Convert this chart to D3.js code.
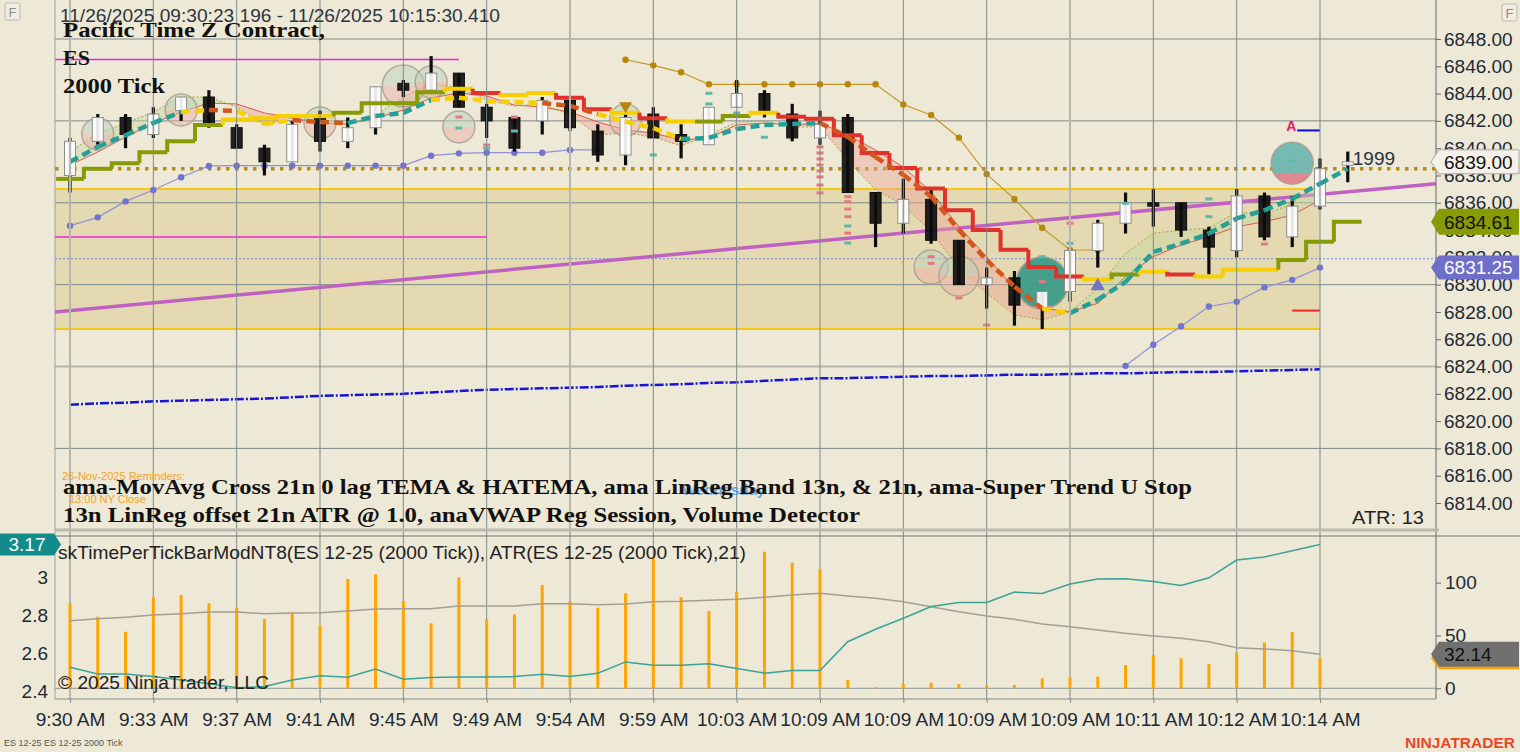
<!DOCTYPE html>
<html>
<head>
<meta charset="utf-8">
<script src="https://cdn.jsdelivr.net/npm/d3@7"></script>
<style>
  html, body { margin: 0; padding: 0; background: #eee8d6; }
  svg { display: block; font-family: "Liberation Sans", Arial, sans-serif; }
</style>
</head>
<body>
<svg id="chart" width="1520" height="752"></svg>
<script>
// ---------- data ----------
const timeLabels = ["9:30 AM", "9:33 AM", "9:37 AM", "9:41 AM", "9:45 AM", "9:49 AM", "9:54 AM", "9:59 AM",
  "10:03 AM", "10:09 AM", "10:09 AM", "10:09 AM", "10:09 AM", "10:11 AM", "10:12 AM", "10:14 AM"];
const labelBars = [0, 3, 6, 9, 12, 15, 18, 21, 24, 27, 30, 33, 36, 39, 42, 45];
const priceTicks = [6814, 6816, 6818, 6820, 6822, 6824, 6826, 6828, 6830, 6832, 6834, 6836, 6838, 6840, 6842, 6844, 6846, 6848];
const gridPrices = [6848, 6842, 6836, 6830, 6824, 6818];

const opens = [6838, 6840.5, 6842.25, 6841, 6842.75, 6843.75, 6841.5, 6840, 6839, 6842.25, 6840.5, 6841.5, 6844.75, 6844.25, 6845.5, 6843,
  6842.25, 6842, 6843.5, 6841.25, 6839.5, 6842.5, 6841, 6840.25, 6843, 6844, 6842.5, 6840.75, 6842.25, 6836.75, 6834.5, 6836.25,
  6833.25, 6830, 6830.5, 6828.25, 6829.5, 6832.5, 6834.5, 6836, 6836, 6834, 6832.5, 6836.5, 6833.5, 6835.75, 6838.75];
const highs = [6840.75, 6842.5, 6842.5, 6843, 6843.75, 6844.25, 6841.75, 6840.25, 6842, 6842.75, 6842.25, 6844.5, 6845, 6846.75, 6845.5, 6843.25,
  6842.25, 6843.75, 6843.5, 6841.75, 6842.5, 6843, 6841.75, 6843, 6845, 6844.25, 6843.25, 6842.75, 6842.5, 6836.75, 6837.75, 6837,
  6833.25, 6831.25, 6831, 6829.5, 6832.5, 6834.75, 6836.75, 6837, 6836, 6834.25, 6837, 6836.75, 6836.5, 6839.25, 6839.75];
const lows = [6836.75, 6840.25, 6840, 6840.75, 6842, 6841.5, 6840, 6838, 6839, 6839.75, 6840, 6841, 6843.75, 6844.25, 6843, 6840.75,
  6839.75, 6841, 6841.25, 6839, 6838.75, 6840.75, 6839.25, 6840.25, 6843, 6842.25, 6840.5, 6840.25, 6836.75, 6832.75, 6833.75, 6833,
  6830, 6828.25, 6827, 6826.75, 6828.75, 6831.25, 6833.75, 6834.25, 6833.5, 6830.75, 6832, 6833.25, 6832.75, 6835.5, 6837.5];
const closes = [6840.5, 6842.25, 6841, 6842.5, 6843.75, 6841.75, 6840, 6839, 6841.75, 6840.5, 6841.5, 6844.5, 6844.25, 6845.5, 6843, 6842,
  6840, 6843.5, 6841.5, 6839.5, 6842.25, 6840.75, 6840.5, 6843, 6844, 6842.75, 6840.75, 6841.75, 6836.75, 6834.5, 6836.25, 6833.25,
  6830, 6830.5, 6828.5, 6829.5, 6832.5, 6834.5, 6836, 6835.75, 6834, 6832.75, 6836.5, 6833.5, 6835.75, 6838.5, 6839];

// super trend stop: g = up, y = neutral, r = down
const stopValues = [6837.75, 6838.5, 6838.9, 6839.7, 6840.5, 6841.7, 6842.1, 6842.2, 6842.35, 6842.35,
  6842.6, 6843.3, 6843.3, 6844.1, 6844.35, 6844.05, 6843.9, 6844.05, 6843.7, 6842.85,
  6842.6, 6842.2, 6841.95, 6841.95, 6842.35, 6842.6, 6842.3, 6842.15, 6840.95, 6839.65,
  6838.55, 6837.05, 6835.45, 6834, 6832.55, 6831.3, 6830.6, 6830.4, 6830.75, 6830.95,
  6830.75, 6830.6, 6831.1, 6831.1, 6831.8, 6833.15, 6834.61];
const stopColors = ("gggggg" + "yyyy" + "gggg" + "yr" + "yy" + "rr" + "yry" + "gg" + "y" + "rrrrrrrrrrr" + "ygyr" + "yyy" + "ggg").split("");

// TEMA / HATEMA dashed line: t = rising, y = flat, o = falling
const temaValues = [6839, 6840.1, 6840.95, 6841.85, 6842.65, 6842.8, 6842.72, 6841.77, 6842.06, 6841.92,
  6841.84, 6842.36, 6842.58, 6843.53, 6843.7, 6843.45, 6843.38, 6843.31, 6843.1, 6842.5,
  6841.95, 6841.48, 6840.67, 6840.75, 6841.4, 6841.7, 6841.77, 6841.84, 6840.82, 6839.35,
  6838.05, 6836.45, 6834, 6831.8, 6829.85, 6828.25, 6827.9, 6828.9, 6830.2, 6832.4,
  6833, 6833.75, 6834.85, 6835.45, 6836.3, 6837.4, 6838.5];
const temaColors = ("tttttyoyyoottt" + "yyyyooyyy" + "ttttt" + "oooooooo" + "y" + "tttttttttt").split("");

// LinReg band lines
const lrRed = [6838.77, 6839.72, 6840.82, 6841.84, 6842.65, 6843.31, 6843.24, 6842.58, 6842.21, 6841.84,
  6841.77, 6842.21, 6842.8, 6843.68, 6844.04, 6843.82, 6843.16, 6843.02, 6842.65, 6841.92,
  6841.33, 6841.11, 6840.6, 6840.75, 6841.7, 6841.84, 6841.7, 6841.84, 6840.97, 6839.87,
  6838.62, 6836.81, 6834.25, 6832.05, 6829.73, 6828.27, 6828.02, 6828.63, 6830.58, 6832.05,
  6832.9, 6833.51, 6834.25, 6834.61, 6835.1, 6836.2];
const lrOlive = [6839.72, 6841.11, 6841.84, 6842.65, 6843.75, 6843.75, 6843.02, 6841.7, 6842.21, 6841.92,
  6841.7, 6842.43, 6843.75, 6844.78, 6844.41, 6843.53, 6843.09, 6843.24, 6842.43, 6840.97,
  6841.11, 6840.82, 6840.16, 6840.97, 6841.92, 6841.99, 6841.55, 6841.55, 6839.13, 6836.94,
  6835.84, 6833.88, 6831.2, 6829.37, 6827.78, 6827.41, 6828.02, 6829.73, 6832.3, 6833.76,
  6834, 6834.13, 6835.35, 6835.1, 6835.96, 6837.54];

const vwapValues = [6821.2, 6821.3, 6821.35, 6821.45, 6821.5, 6821.55, 6821.6, 6821.65, 6821.75, 6821.85,
  6821.9, 6821.95, 6822.0, 6822.1, 6822.2, 6822.3, 6822.35, 6822.4, 6822.45, 6822.5,
  6822.6, 6822.65, 6822.7, 6822.8, 6822.85, 6822.95, 6823.05, 6823.15, 6823.15, 6823.2,
  6823.25, 6823.3, 6823.3, 6823.35, 6823.4, 6823.4, 6823.45, 6823.5, 6823.5, 6823.55,
  6823.6, 6823.6, 6823.65, 6823.7, 6823.75, 6823.8];

const goldStart = 20;
const goldValues = [6846.48, 6846.07, 6845.56, 6844.68, 6844.68, 6844.68, 6844.68, 6844.68, 6844.68, 6844.68,
  6843.2, 6842.43, 6840.77, 6838.1, 6836.28, 6834.17, 6832.54, 6832.54];
const lavenderAStart = 0;
const lavenderA = [6834.32, 6834.93, 6836.1, 6836.94, 6837.87, 6838.7, 6838.72, 6838.72, 6838.72, 6838.72,
  6838.72, 6838.72, 6838.72, 6839.45, 6839.62, 6839.67, 6839.67, 6839.67, 6839.87, 6839.87];
const lavenderBStart = 38;
const lavenderB = [6824.05, 6825.6, 6826.95, 6828.4, 6828.75, 6829.8, 6830.35, 6831.25];

// horizontal levels
const bandTop = 6837, bandBottom = 6826.75, bandEndBar = 45;
const magentaHigh = 6846.5, magentaHighEnd = 14;
const magentaLow = 6833.5, magentaLowEnd = 15;
const dottedLevel = 6838.5;
const blueDotLevel = 6831.9;
const regBars = [-0.54, 49.17];
const regPrices = [6828.0, 6837.4];

// volume detector circles: [bar, price, radius, kind]
const volCircles = [[1, 6841.04, 16, 0], [4, 6842.8, 16, 0], [9, 6841.84, 16, 0], [12, 6844.56, 21, 0], [13, 6844.85, 16, 0],
  [14, 6841.55, 16, 0], [20, 6842.06, 16, 0], [31, 6831.29, 17, 0], [32, 6830.63, 20, 0], [35, 6830.12, 26, 1], [44, 6838.9, 21, 2]];
// volume detector ticks: [bar, price, p = pink / t = teal]
const volTicks = [[14, 6842.28, "p"], [14, 6841.48, "t"], [15, 6840.23, "p"], [15, 6840.0, "t"], [16, 6842.28, "p"], [16, 6841.26, "t"],
  [21, 6839.5, "t"], [23, 6844.02, "t"], [23, 6843.24, "t"], [24, 6842.58, "t"], [25, 6840.8, "t"],
  [27, 6840.09, "p"], [27, 6839.65, "p"], [27, 6839.21, "p"], [27, 6838.77, "p"], [27, 6838.33, "p"], [27, 6837.89, "p"], [27, 6837.3, "p"], [27, 6836.72, "p"],
  [28, 6836.44, "p"], [28, 6836.08, "p"], [28, 6835.54, "p"], [28, 6834.98, "p"], [28, 6834.3, "t"], [28, 6833.78, "p"], [28, 6833.05, "t"],
  [31, 6832.05, "p"], [31, 6831.56, "p"], [32, 6829.02, "p"], [33, 6827.04, "p"], [35, 6832.05, "t"], [35, 6830.22, "p"],
  [36, 6834.5, "p"], [36, 6833.03, "t"], [38, 6835.96, "t"], [41, 6836.28, "t"], [41, 6834.98, "t"], [43, 6832.98, "p"], [44, 6839.06, "t"]];

// lower panel
const tptBars = [80.4, 67.7, 53.5, 86.1, 88.3, 80.4, 76.3, 65.6, 71, 59.2,
  103.4, 107.9, 82.6, 61.5, 105, 65.3, 70, 97.7, 82.6, 76.3,
  89.9, 124.5, 86.1, 73.1, 91.4, 129.2, 118.8, 112.6, 7.9, 1,
  4, 5.3, 4, 3.1, 3.1, 9.5, 10, 11, 22, 31.5,
  28.4, 23, 33.7, 43.5, 53.3, 28.4];
const tptAverage = [64, 65.8, 67.2, 69.3, 70.6, 72.2, 72.2, 70.6, 71.2, 71.5,
  73.1, 75, 75.3, 75.3, 77.9, 77.9, 77.9, 80, 80, 79.1,
  79.8, 81.9, 82.3, 83.3, 84.2, 86.1, 88.3, 89.9, 87.3, 85.1,
  81.9, 77.2, 72.5, 68.4, 65.3, 60.8, 58.3, 55.2, 52, 49.5,
  47.3, 44.1, 38.4, 37.2, 35.6, 32.14];
const atrValues = [2.527, 2.492, 2.492, 2.478, 2.46, 2.44, 2.42, 2.426, 2.46, 2.482,
  2.475, 2.518, 2.464, 2.473, 2.476, 2.476, 2.478, 2.49, 2.478, 2.496,
  2.555, 2.538, 2.538, 2.545, 2.52, 2.496, 2.51, 2.51, 2.661, 2.726,
  2.784, 2.845, 2.866, 2.867, 2.921, 2.914, 2.963, 2.99, 2.991, 2.977,
  2.956, 2.996, 3.089, 3.105, 3.138, 3.17];
const leftTicks = [2.4, 2.6, 2.8, 3];
const rightTicks = [0, 50, 100];

// ---------- layout ----------
const W = 1520, H = 752;
const plotL = 55, plotR = 1436, mainBot = 530, lowTop = 536, lowBot = 699;
const bg = "#eee8d6", gridDark = "#7d8b8b", gridLight = "#b7b6ac", axisText = "#1c2a36";
const axisFont = 19;

const x = d3.scaleLinear().domain([0, 45]).range([70, 1320]);
const y = d3.scaleLinear().domain([6814, 6848]).range([503, 39]);
const yL = d3.scaleLinear().domain([2.4, 3]).range([691.5, 577]);
const yR = d3.scaleLinear().domain([0, 100]).range([688.3, 582.6]);
const half = (x(1) - x(0)) / 2;

const svg = d3.select("#chart");
svg.append("rect").attr("width", W).attr("height", H).attr("fill", bg);
const defs = svg.append("defs");
defs.append("clipPath").attr("id", "mainClip").append("rect")
  .attr("x", plotL).attr("y", 0).attr("width", plotR - plotL).attr("height", mainBot);

function splitGradient(id, top, bottom, at) {
  const g = defs.append("linearGradient").attr("id", id)
    .attr("x1", 0).attr("y1", 0).attr("x2", 0).attr("y2", 1);
  g.append("stop").attr("offset", 0).attr("stop-color", top);
  g.append("stop").attr("offset", at).attr("stop-color", top);
  g.append("stop").attr("offset", at).attr("stop-color", bottom);
  g.append("stop").attr("offset", 1).attr("stop-color", bottom);
}
splitGradient("volLight", "#b9d3bf", "#ebb1a6", 0.5);
splitGradient("volBigLow", "#3e9c89", "#e08590", 0.95);
splitGradient("volBigHigh", "#6fb7ae", "#e2838e", 0.74);

const main = svg.append("g").attr("clip-path", "url(#mainClip)");

// shaded band between the two yellow levels
main.append("rect")
  .attr("x", plotL).attr("width", x(bandEndBar) - plotL)
  .attr("y", y(bandTop)).attr("height", y(bandBottom) - y(bandTop))
  .attr("fill", "#e5d9b2");

// grid
svg.append("g").selectAll("line").data(labelBars).enter().append("line")
  .attr("x1", d => x(d)).attr("x2", d => x(d)).attr("y1", 0).attr("y2", lowBot)
  .attr("stroke", (d, i) => i % 6 === 0 ? gridLight : gridDark)
  .attr("stroke-width", (d, i) => i % 6 === 0 ? 2 : 1);
main.append("g").selectAll("line").data(gridPrices).enter().append("line")
  .attr("x1", plotL).attr("x2", plotR).attr("y1", d => y(d)).attr("y2", d => y(d))
  .attr("stroke", d => d === 6824 ? gridLight : gridDark)
  .attr("stroke-width", d => d === 6824 ? 2 : 1);

// level lines
function level(price, endX, color, width, dash) {
  main.append("line").attr("x1", plotL).attr("x2", endX)
    .attr("y1", y(price)).attr("y2", y(price))
    .attr("stroke", color).attr("stroke-width", width)
    .attr("stroke-dasharray", dash || null);
}
level(blueDotLevel, plotR, "#6f8fe0", 1, "2,2");
level(bandTop, x(bandEndBar), "#f3c914", 2);
level(bandBottom, x(bandEndBar), "#f3c914", 2);
level(magentaHigh, x(magentaHighEnd), "#f020e0", 1.5);
level(magentaLow, x(magentaLowEnd), "#f020e0", 1.5);

// regression line
main.append("line")
  .attr("x1", x(regBars[0])).attr("y1", y(regPrices[0]))
  .attr("x2", x(regBars[1])).attr("y2", y(regPrices[1]))
  .attr("stroke", "#c062c4").attr("stroke-width", 3.5);

// VWAP
main.append("path").datum(vwapValues)
  .attr("d", d3.line().x((d, i) => x(i)).y(d => y(d)))
  .attr("fill", "none").attr("stroke", "#1414d2").attr("stroke-width", 2.5)
  .attr("stroke-dasharray", "9,2,2,2");

level(dottedLevel, plotR, "#b88a12", 3.5, "3.5,5.5");

// LinReg band fill
main.append("g").selectAll("path").data(lrRed.slice(0, -1)).enter().append("path")
  .attr("d", (r, i) => `M${x(i)},${y(r)}L${x(i + 1)},${y(lrRed[i + 1])}L${x(i + 1)},${y(lrOlive[i + 1])}L${x(i)},${y(lrOlive[i])}Z`)
  .attr("fill", (r, i) => (r + lrRed[i + 1]) > (lrOlive[i] + lrOlive[i + 1]) ? "#e9a696" : "#c4d6a4")
  .attr("fill-opacity", 0.45);
main.append("path").datum(lrRed)
  .attr("d", d3.line().x((d, i) => x(i)).y(d => y(d)))
  .attr("fill", "none").attr("stroke", "#e4564c").attr("stroke-width", 1);
main.append("path").datum(lrOlive)
  .attr("d", d3.line().x((d, i) => x(i)).y(d => y(d)))
  .attr("fill", "none").attr("stroke", "#a4a63a").attr("stroke-width", 1)
  .attr("stroke-dasharray", "2,2");

// dotted indicator lines
function dotLine(values, start, color, dotColor) {
  const g = main.append("g");
  g.append("path").datum(values)
    .attr("d", d3.line().x((d, i) => x(start + i)).y(d => y(d)))
    .attr("fill", "none").attr("stroke", color).attr("stroke-width", 1.2);
  g.selectAll("circle").data(values).enter().append("circle")
    .attr("cx", (d, i) => x(start + i)).attr("cy", d => y(d)).attr("r", 3.2)
    .attr("fill", dotColor);
}
dotLine(goldValues, goldStart, "#c39a2a", "#b8860b");
dotLine(lavenderA, lavenderAStart, "#9090d8", "#7272cf");
dotLine(lavenderB, lavenderBStart, "#9090d8", "#7272cf");

// volume detector circles
main.append("g").selectAll("circle").data(volCircles).enter().append("circle")
  .attr("cx", d => x(d[0])).attr("cy", d => y(d[1])).attr("r", d => d[2])
  .attr("fill", d => d[3] === 0 ? "url(#volLight)" : d[3] === 1 ? "url(#volBigLow)" : "url(#volBigHigh)")
  .attr("fill-opacity", d => d[3] === 0 ? 0.5 : 0.95)
  .attr("stroke", "#a49c8e").attr("stroke-opacity", 0.8).attr("stroke-width", 1.5);

// candles
const bars = d3.range(opens.length);
const candles = main.append("g");
candles.selectAll("rect.wick").data(bars).enter().append("rect")
  .attr("class", "wick")
  .attr("x", i => x(i) - 1.6).attr("width", 3.2)
  .attr("y", i => y(highs[i])).attr("height", i => y(lows[i]) - y(highs[i]))
  .attr("fill", "#0c0c0c");
candles.selectAll("rect.body").data(bars).enter().append("rect")
  .attr("class", "body")
  .attr("x", i => x(i) - 5.5).attr("width", 11)
  .attr("y", i => y(Math.max(opens[i], closes[i])))
  .attr("height", i => Math.max(2, y(Math.min(opens[i], closes[i])) - y(Math.max(opens[i], closes[i]))))
  .attr("fill", i => closes[i] >= opens[i] ? "#ffffff" : "#0c0c0c")
  .attr("fill-opacity", 0.9)
  .attr("stroke", i => closes[i] >= opens[i] ? "#8d8d8d" : "#0c0c0c")
  .attr("stroke-width", 1);

// super trend step
const stopColor = { g: "#879b04", y: "#f8cf00", r: "#e0322a" };
main.append("g").selectAll("path").data(stopValues).enter().append("path")
  .attr("d", (v, i) => i === 0
    ? `M${x(i) - half},${y(v)}H${x(i) + half}`
    : `M${x(i) - half},${y(stopValues[i - 1])}V${y(v)}H${x(i) + half}`)
  .attr("fill", "none").attr("stroke", (v, i) => stopColor[stopColors[i]])
  .attr("stroke-width", 4).attr("stroke-linejoin", "miter");

// TEMA dashed
const temaColor = { t: "#25a096", y: "#f6d000", o: "#d2571d" };
main.append("g").selectAll("line").data(temaValues.slice(1)).enter().append("line")
  .attr("x1", (v, i) => x(i)).attr("y1", (v, i) => y(temaValues[i]))
  .attr("x2", (v, i) => x(i + 1)).attr("y2", v => y(v))
  .attr("stroke", (v, i) => temaColor[temaColors[i + 1]])
  .attr("stroke-width", 4.5).attr("stroke-dasharray", "9,5");

// volume detector ticks
main.append("g").selectAll("rect").data(volTicks).enter().append("rect")
  .attr("x", d => x(d[0]) - 3.5).attr("y", d => y(d[1]) - 1.5)
  .attr("width", 7).attr("height", 3)
  .attr("fill", d => d[2] === "p" ? "#e27a82" : "#62b8a8");

// triangles
main.append("path")
  .attr("d", d3.symbol(d3.symbolTriangle, 70)())
  .attr("transform", `translate(${x(20)},${y(6843.1)}) rotate(180)`)
  .attr("fill", "#b8860b");
main.append("path")
  .attr("d", d3.symbol(d3.symbolTriangle, 90)())
  .attr("transform", `translate(${x(37)},${y(6829.9)})`)
  .attr("fill", "#7474c4");

// small annotations near the last bars
main.append("text").attr("x", x(44) - 6).attr("y", y(6841.3) + 1)
  .attr("font-size", 14).attr("font-weight", "bold").attr("fill", "#e2215c").text("A");
main.append("line").attr("x1", x(44) + 5).attr("x2", x(45)).attr("y1", y(6841.3)).attr("y2", y(6841.3))
  .attr("stroke", "#0a0ae6").attr("stroke-width", 2);
main.append("line").attr("x1", x(44)).attr("x2", x(45)).attr("y1", y(6828.1)).attr("y2", y(6828.1))
  .attr("stroke", "#f02a1e").attr("stroke-width", 2);
main.append("text").attr("x", x(46) + 5).attr("y", 165)
  .attr("font-size", 19).attr("fill", "#24323e").text("1999");

// ---------- text in main panel ----------
svg.append("text").attr("x", 60).attr("y", 22).attr("font-size", 18).attr("fill", "#2b3540")
  .attr("textLength", 440).attr("lengthAdjust", "spacingAndGlyphs")
  .text("11/26/2025 09:30:23 196 - 11/26/2025 10:15:30.410");
const serif = "'Liberation Serif', 'Times New Roman', serif";
function serifText(str, px, py, len) {
  svg.append("text").attr("x", px).attr("y", py)
    .attr("font-family", serif).attr("font-weight", "bold").attr("font-size", 22).attr("fill", "#111")
    .attr("textLength", len || null).attr("lengthAdjust", "spacingAndGlyphs").text(str);
}
serifText("Pacific Time Z Contract,", 63, 37, 262);
serifText("ES", 63, 65);
serifText("2000 Tick", 63, 93, 102);

svg.append("text").attr("x", 62).attr("y", 480).attr("font-size", 11).attr("fill", "#f4a22a").text("26-Nov-2025 Reminders:");
svg.append("text").attr("x", 69).attr("y", 503).attr("font-size", 11).attr("fill", "#f4a22a").text("13:00 NY Close");
svg.append("text").attr("x", 682).attr("y", 495).attr("font-size", 15).attr("font-weight", "bold")
  .attr("fill", "#4e9ce0").attr("fill-opacity", 0.85).text("Wednesday");
serifText("ama-MovAvg Cross 21n 0 lag TEMA & HATEMA, ama LinReg Band 13n, & 21n, ama-Super Trend U Stop", 63, 494, 1129);
serifText("13n LinReg offset 21n ATR @ 1.0, anaVWAP Reg Session, Volume Detector", 63, 522, 797);
svg.append("text").attr("x", 1352).attr("y", 524).attr("font-size", 18).attr("fill", "#222")
  .attr("textLength", 72).attr("lengthAdjust", "spacingAndGlyphs").text("ATR: 13");

// "F" buttons
[[5, 3], [1502, 4]].forEach(p => {
  svg.append("rect").attr("x", p[0]).attr("y", p[1]).attr("width", 15).attr("height", 17).attr("rx", 2)
    .attr("fill", "#f1ede2").attr("stroke", "#bdb9ae");
  svg.append("text").attr("x", p[0] + 7.5).attr("y", p[1] + 13.5).attr("text-anchor", "middle")
    .attr("font-size", 13).attr("fill", "#8a8a8a").text("F");
});

// ---------- frame lines ----------
svg.append("line").attr("x1", plotL).attr("x2", plotL).attr("y1", 0).attr("y2", lowBot).attr("stroke", "#98a0a0");
svg.append("line").attr("x1", plotR).attr("x2", plotR).attr("y1", 0).attr("y2", lowBot).attr("stroke", "#5d6a6e");
svg.append("line").attr("x1", plotL).attr("x2", plotR + 3).attr("y1", mainBot).attr("y2", mainBot)
  .attr("stroke", "#b9b9b1").attr("stroke-width", 3);
svg.append("line").attr("x1", plotL).attr("x2", W).attr("y1", lowTop).attr("y2", lowTop).attr("stroke", "#6c787c");
svg.append("line").attr("x1", plotL).attr("x2", plotR).attr("y1", lowBot).attr("y2", lowBot).attr("stroke", "#7d8b8b");
svg.append("line").attr("x1", plotL).attr("x2", plotR).attr("y1", yR(0)).attr("y2", yR(0)).attr("stroke", "#8a9696");

// ---------- main price axis ----------
const priceAxis = svg.append("g").attr("transform", `translate(${plotR},0)`)
  .call(d3.axisRight(y).tickValues(priceTicks).tickFormat(d3.format(".2f")).tickSize(5).tickPadding(3));
priceAxis.select(".domain").remove();
priceAxis.selectAll("line").attr("stroke", "#5d6a6e");
priceAxis.selectAll("text").attr("font-size", axisFont).attr("fill", axisText);

function priceTag(yc, h, fill, stroke, textColor, label) {
  svg.append("path")
    .attr("d", `M${plotR - 5},${yc}L${plotR + 3},${yc - h / 2}H${W - 1}V${yc + h / 2}H${plotR + 3}Z`)
    .attr("fill", fill).attr("stroke", stroke || "none");
  svg.append("text").attr("x", plotR + 8).attr("y", yc).attr("dy", "0.36em")
    .attr("font-size", axisFont).attr("fill", textColor).text(label);
}
priceTag(y(closes[closes.length - 1]), 24, "#f4f1e8", "#a9a9a2", "#111", closes[closes.length - 1].toFixed(2));
priceTag(y(stopValues[stopValues.length - 1]), 26, "#879b04", null, "#111", stopValues[stopValues.length - 1].toFixed(2));
priceTag(y(lavenderB[lavenderB.length - 1]), 24, "#6d6fc9", null, "#ffffff", lavenderB[lavenderB.length - 1].toFixed(2));

// ---------- lower panel ----------
const low = svg.append("g");
low.selectAll("rect").data(tptBars).enter().append("rect")
  .attr("x", (d, i) => x(i) - 1.5).attr("width", 3)
  .attr("y", d => yR(d)).attr("height", d => yR(0) - yR(d))
  .attr("fill", "#ffa500");
low.append("path").datum(tptAverage)
  .attr("d", d3.line().x((d, i) => x(i)).y(d => yR(d)))
  .attr("fill", "none").attr("stroke", "#a59e94").attr("stroke-width", 1.5);
low.append("path").datum(atrValues)
  .attr("d", d3.line().x((d, i) => x(i)).y(d => yL(d)))
  .attr("fill", "none").attr("stroke", "#3aa396").attr("stroke-width", 1.5);

svg.append("text").attr("x", 58).attr("y", 559).attr("font-size", 18).attr("fill", "#222")
  .attr("textLength", 688).attr("lengthAdjust", "spacingAndGlyphs")
  .text("skTimePerTickBarModNT8(ES 12-25 (2000 Tick)), ATR(ES 12-25 (2000 Tick),21)");
svg.append("text").attr("x", 58).attr("y", 689).attr("font-size", 18).attr("fill", "#222")
  .attr("textLength", 211).attr("lengthAdjust", "spacingAndGlyphs").text("© 2025 NinjaTrader, LLC");

const leftAxis = svg.append("g").attr("transform", "translate(52,0)")
  .call(d3.axisLeft(yL).tickValues(leftTicks).tickFormat(d => d === 3 ? "3" : d3.format(".1f")(d)).tickSize(0).tickPadding(4));
leftAxis.select(".domain").remove();
leftAxis.selectAll("text").attr("font-size", axisFont).attr("fill", axisText);

const rightAxis = svg.append("g").attr("transform", `translate(${plotR},0)`)
  .call(d3.axisRight(yR).tickValues(rightTicks).tickSize(5).tickPadding(4));
rightAxis.select(".domain").remove();
rightAxis.selectAll("line").attr("stroke", "#5d6a6e");
rightAxis.selectAll("text").attr("font-size", axisFont).attr("fill", axisText);

// last-value tags of the lower panel
priceTag(yR(tptBars[tptBars.length - 1]), 22, "#ffa500", null, "#ffa500", "");
priceTag(yR(tptAverage[tptAverage.length - 1]), 25, "#707070", null, "#111", tptAverage[tptAverage.length - 1].toFixed(2));
const atrLast = atrValues[atrValues.length - 1];
svg.append("path")
  .attr("d", `M0,${yL(atrLast) - 11}H54L61,${yL(atrLast)}L54,${yL(atrLast) + 11}H0Z`)
  .attr("fill", "#128b8b");
svg.append("text").attr("x", 27).attr("y", yL(atrLast)).attr("dy", "0.36em").attr("text-anchor", "middle")
  .attr("font-size", axisFont).attr("fill", "#fff").text(atrLast.toFixed(2));

// ---------- time axis ----------
const timeAxis = svg.append("g").attr("transform", `translate(0,${lowBot})`)
  .call(d3.axisBottom(x).tickValues(labelBars).tickFormat((d, i) => timeLabels[i]).tickSize(4).tickPadding(10));
timeAxis.select(".domain").remove();
timeAxis.selectAll("line").attr("stroke", "#7d8b8b");
timeAxis.selectAll("text").attr("font-size", axisFont).attr("fill", axisText);

svg.append("text").attr("x", 4).attr("y", 746).attr("font-size", 9).attr("fill", "#555").text("ES 12-25 ES 12-25 2000 Tick");
svg.append("text").attr("x", 1405).attr("y", 748).attr("font-size", 15).attr("font-weight", "bold")
  .attr("fill", "#e8472a").attr("textLength", 110).attr("lengthAdjust", "spacingAndGlyphs").text("NINJATRADER");
</script>
</body>
</html>
